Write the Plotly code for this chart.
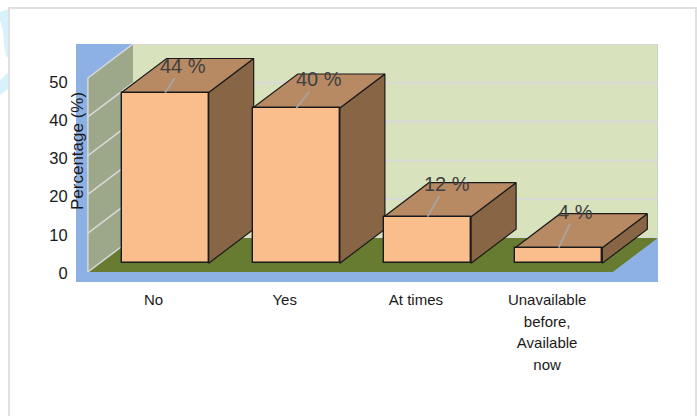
import plotly.graph_objects as go

# Survey responses
categories = [["No"], ["Yes"], ["At times"], ["Unavailable", "before,", "Available", "now"]]
values = [44, 40, 12, 4]
value_labels = ["44 %", "40 %", "12 %", "4 %"]
axis_ticks = [0, 10, 20, 30, 40, 50]

# Oblique projection of the 3D box: one unit of depth shifts a point right (in
# category units) and up (in value units).
DEPTH_X = 45 / 131.2
DEPTH_Y = 34 / 3.88
BAR_DEPTH = 0.258          # distance of the bar fronts from the front of the floor
BAR_HALF = 0.332
X_MIN, X_MAX = -0.5907, 3.845
Y_MIN, Y_MAX = -2.577, 58.76
WALL_TOP = 50

# Pixel offsets of the data labels from the top-front centre of each bar
label_dx = [18, 23, 19, 17]
label_dy = [-27, -29, -33, -36]

BLUE = "#8DB1E4"
BACK_WALL = "#D8E3BE"
SIDE_WALL = "#9DA88A"
FLOOR = "#677C31"
GRID = "#D9D9D9"
FRONT = "#F9BE8C"
TOP = "#B88A64"
SIDE = "#876545"
EDGE = "#1A1A1A"


def proj(x, v, d):
    return x + d * DEPTH_X, v + d * DEPTH_Y


def polygon(points, fill, line_color=None, line_width=0):
    xs, ys = zip(*[proj(*p) for p in points])
    return go.Scatter(
        x=list(xs) + [xs[0]], y=list(ys) + [ys[0]],
        mode="lines", fill="toself", fillcolor=fill,
        line=dict(color=line_color or fill, width=line_width),
        hoverinfo="skip", showlegend=False,
    )


def segment(a, b, color, width):
    xs, ys = zip(proj(*a), proj(*b))
    return go.Scatter(x=list(xs), y=list(ys), mode="lines",
                      line=dict(color=color, width=width),
                      hoverinfo="skip", showlegend=False)


def page_x(px):
    return (px - 76) / 582


def page_y(py):
    return (282 - py) / 238


def tick_text(lines):
    # The tick font sets the line pitch; the span sets the glyph size.
    return "<br>".join(f'<span style="font-size:15px">{s}</span>' for s in lines)


def page_path(points):
    return "M " + " L ".join(f"{page_x(a)} {page_y(b)}" for a, b in points) + " Z"


L, R = -0.5, 3.5
fig = go.Figure()

# Box walls and floor
fig.add_trace(polygon([(L, 0, 1), (R, 0, 1), (R, WALL_TOP, 1), (L, WALL_TOP, 1)], BACK_WALL))
fig.add_trace(polygon([(L, 0, 0), (L, 0, 1), (L, WALL_TOP, 1), (L, WALL_TOP, 0)], SIDE_WALL))
for t in axis_ticks:
    fig.add_trace(segment((L, t, 1), (R, t, 1), GRID, 2))
fig.add_trace(polygon([(L, 0, 0), (R, 0, 0), (R, 0, 1), (L, 0, 1)], FLOOR))
for t in axis_ticks:
    fig.add_trace(segment((L, t, 0), (L, t, 1), GRID, 1.5))
fig.add_trace(segment((L, 0, 0), (L, WALL_TOP, 0), GRID, 1.5))

# Top and side faces of each bar
base = BAR_DEPTH * DEPTH_Y
for i, v in enumerate(values):
    x0, x1 = i - BAR_HALF, i + BAR_HALF
    d0, d1 = BAR_DEPTH, BAR_DEPTH + 1
    fig.add_trace(polygon([(x1, v, d0), (x1, v, d1), (x1, 0, d1), (x1, 0, d0)],
                          SIDE, EDGE, 1.2))
    fig.add_trace(polygon([(x0, v, d0), (x1, v, d0), (x1, v, d1), (x0, v, d1)],
                          TOP, EDGE, 1.2))

# Front faces, on overlaid axes so they sit above the neighbouring side faces
fig.add_trace(go.Bar(
    x=[i + BAR_DEPTH * DEPTH_X for i in range(len(values))], y=values, base=base,
    width=2 * BAR_HALF, xaxis="x2", yaxis="y2",
    marker=dict(color=FRONT, line=dict(color=EDGE, width=1.4)),
    hoverinfo="skip", showlegend=False,
))

# Carries the value axis labels
fig.add_trace(go.Scatter(x=[0, 0], y=[0, 50], yaxis="y3", mode="none",
                         hoverinfo="skip", showlegend=False))

for i, v in enumerate(values):
    px, py = proj(i, v, BAR_DEPTH)
    fig.add_annotation(
        x=px, y=py, xref="x", yref="y", text=value_labels[i],
        ax=label_dx[i], ay=label_dy[i], axref="pixel", ayref="pixel",
        showarrow=True, arrowhead=0, arrowwidth=1.8, arrowcolor="#A5A5A5",
        font=dict(family="Liberation Sans", size=20, color="#404040"),
    )

fig.add_annotation(
    xref="paper", yref="paper", x=page_x(77), y=page_y(151),
    xanchor="center", yanchor="middle",
    text="Percentage (%)", textangle=-90, showarrow=False,
    font=dict(family="Liberation Sans", size=17, color="#1A1A1A"),
)

axis_off = dict(showgrid=False, zeroline=False, showticklabels=False, showline=False, ticks="")
fig.update_layout(
    width=697, height=416, autosize=False,
    margin=dict(l=76, r=39, t=44, b=134, pad=0),
    paper_bgcolor="white", plot_bgcolor=BLUE,
    font=dict(family="Liberation Sans", color="#1A1A1A"),
    showlegend=False, bargap=0,
    xaxis=dict(range=[X_MIN, X_MAX], tickmode="array", tickvals=list(range(len(categories))),
               ticktext=[tick_text(c) for c in categories],
               showgrid=False, zeroline=False, showline=False,
               ticks="outside", ticklen=2, tickcolor="rgba(0,0,0,0)",
               tickfont=dict(size=16.6, color="#1A1A1A")),
    yaxis=dict(range=[Y_MIN, Y_MAX], **axis_off),
    xaxis2=dict(range=[X_MIN, X_MAX], overlaying="x", **axis_off),
    yaxis2=dict(range=[Y_MIN, Y_MAX], overlaying="y", **axis_off),
    yaxis3=dict(range=[-9 / 3.82, 229 / 3.82], overlaying="y", tickmode="array",
                tickvals=axis_ticks, showgrid=False, zeroline=False, showline=False,
                ticks="outside", ticklen=4, tickcolor="rgba(0,0,0,0)",
                tickfont=dict(size=16.5, color="#1A1A1A")),
    shapes=[
        # Pale swash beyond the page edge
        dict(type="path", xref="paper", yref="paper", layer="below", line_width=0,
             fillcolor="#D8F1FA",
             path=page_path([(0, 12), (9, 9), (9, 58), (6, 56), (4, 44), (3, 30), (0, 20)])),
        dict(type="path", xref="paper", yref="paper", layer="below", line_width=0,
             fillcolor="#D8F1FA",
             path=page_path([(0, 80), (9, 72), (9, 88), (0, 95)])),
        # Page frame
        dict(type="rect", xref="paper", yref="paper", layer="below",
             x0=page_x(9), x1=page_x(696), y0=page_y(425), y1=page_y(8),
             line=dict(color="#E0E0E0", width=2)),
    ],
)

fig.write_html("out.html")
